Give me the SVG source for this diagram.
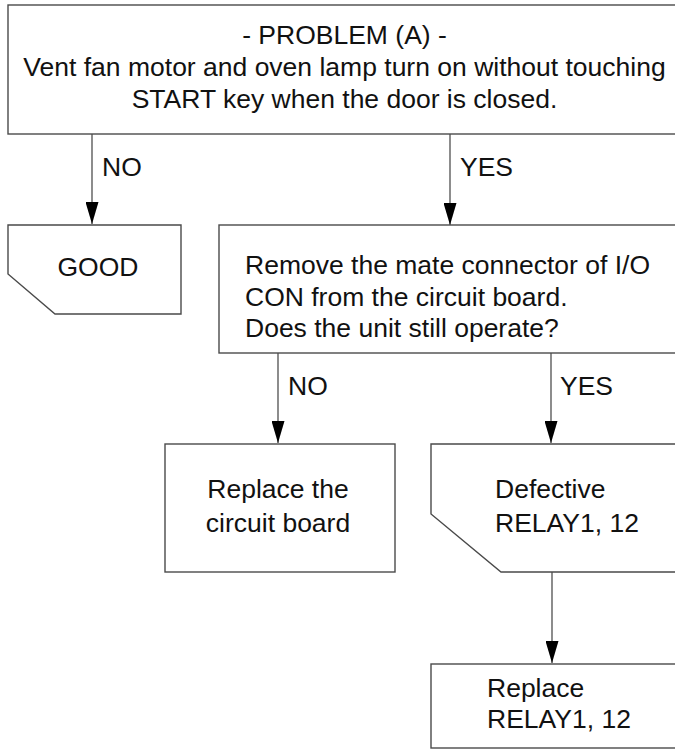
<svg xmlns="http://www.w3.org/2000/svg" width="675" height="749" viewBox="0 0 675 749">
<style>
  .box { fill: #ffffff; stroke: #4a4a4a; stroke-width: 1.4; }
  .conn { stroke: #707070; stroke-width: 1.6; fill: none; marker-end: url(#arrow); }
  .plain { stroke: #707070; stroke-width: 1.6; fill: none; }
  text { font-family: "Liberation Sans", Arial, sans-serif; font-size: 26.5px; fill: #111111; }
  .c { text-anchor: middle; }
</style>
<defs>
  <marker id="arrow" viewBox="0 0 22 13" refX="22" refY="6.5" markerWidth="22" markerHeight="13" markerUnits="userSpaceOnUse" orient="auto">
    <path d="M0,0 L22,6.5 L0,13 Z" fill="#000000"/>
  </marker>
</defs>
<rect width="675" height="749" fill="#ffffff"/>

<g id="connectors">
  <line class="conn" x1="92" y1="134" x2="92" y2="224"/>
  <line class="conn" x1="450" y1="134" x2="450" y2="225"/>
  <line class="conn" x1="278" y1="353" x2="278" y2="443"/>
  <line class="conn" x1="551" y1="353" x2="551" y2="443"/>
  <line class="conn" x1="552" y1="572" x2="552" y2="663"/>
  <text x="102" y="176">NO</text>
  <text x="460" y="176">YES</text>
  <text x="288" y="395">NO</text>
  <text x="560" y="395">YES</text>
</g>

<g id="problem">
  <rect class="box" x="8" y="5" width="680" height="129"/>
  <text class="c" x="344.5" y="44">- PROBLEM (A) -</text>
  <text class="c" x="344.5" y="76">Vent fan motor and oven lamp turn on without touching</text>
  <text class="c" x="344.5" y="108">START key when the door is closed.</text>
</g>

<g id="good">
  <path class="box" d="M8,225 L181,225 L181,314 L55,314 L8,274 Z"/>
  <text class="c" x="98" y="276">GOOD</text>
</g>

<g id="decision">
  <rect class="box" x="219" y="225" width="470" height="128"/>
  <text x="245" y="274">Remove the mate connector of I/O</text>
  <text x="245" y="306">CON from the circuit board.</text>
  <text x="245" y="337">Does the unit still operate?</text>
</g>

<g id="replace-board">
  <rect class="box" x="165" y="444" width="230" height="128"/>
  <text class="c" x="278" y="498">Replace the</text>
  <text class="c" x="278" y="532">circuit board</text>
</g>

<g id="defective">
  <path class="box" d="M431,444 L690,444 L690,572 L501,572 L431,514 Z"/>
  <text x="495" y="498">Defective</text>
  <text x="495" y="532">RELAY1, 12</text>
</g>

<g id="replace-relay">
  <rect class="box" x="431" y="664" width="259" height="84"/>
  <text x="487" y="697">Replace</text>
  <text x="487" y="728">RELAY1, 12</text>
</g>
</svg>
